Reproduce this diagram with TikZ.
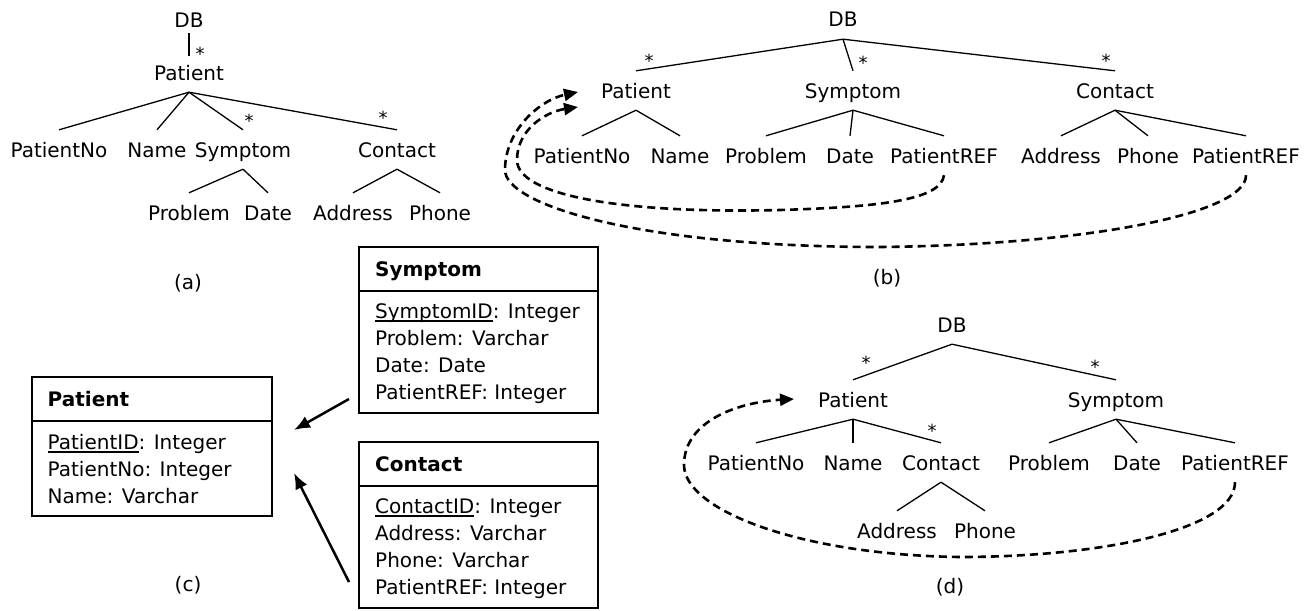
\documentclass[tikz,border=0pt]{standalone}
\usepackage{fontspec}
\setmainfont{DejaVu Sans}
\usetikzlibrary{arrows.meta}
\newcommand\myul[1]{\setbox0\hbox{#1}\rlap{\rule[-3.5pt]{\wd0}{1.3pt}}\box0}
\tikzset{
  tn/.style={inner sep=0pt, text height=27pt, text depth=12pt, anchor=base},
  lbl/.style={inner sep=0pt, anchor=base},
  astk/.style={inner sep=0pt, anchor=base, font=\fontsize{18}{18}\selectfont},
  ebox/.style={draw, line width=1.4pt, inner sep=0pt},
  row/.style={inner sep=0pt, anchor=base west},
  edge/.style={line width=1.3pt},
  dsh/.style={line width=2.6pt, dash pattern=on 8pt off 5pt, -{Triangle[length=14pt,width=12pt]}},
  fk/.style={line width=2.5pt, -{Latex[length=16pt,width=13pt]}}
}
\begin{document}
\begin{tikzpicture}[x=1pt, y=-1pt, font=\fontsize{20}{27}\selectfont]
\useasboundingbox (0,0) rectangle (1313,610);

% ---------- (a) ----------
\node[tn, text depth=5pt] (dbA) at (189,28) {DB};
\node[tn] (patA) at (189,80) {Patient};
\node[tn] (pnoA) at (59,157) {PatientNo};
\node[tn] (nameA) at (157,157) {Name};
\node[tn] (symA) at (243,157) {Symptom};
\node[tn] (conA) at (397,157) {Contact};
\node[tn] (probA) at (189,220) {Problem};
\node[tn] (dateA) at (268,220) {Date};
\node[tn] (addrA) at (353,220) {Address};
\node[tn] (phoneA) at (440,220) {Phone};
\draw[edge, shorten >=-3pt] (dbA.south) -- (patA.north);
\draw[edge] (patA.south) -- (pnoA.north);
\draw[edge] (patA.south) -- (nameA.north);
\draw[edge] (patA.south) -- (symA.north);
\draw[edge] (patA.south) -- (conA.north);
\draw[edge] (symA.south) -- (probA.north);
\draw[edge] (symA.south) -- (dateA.north);
\draw[edge] (conA.south) -- (addrA.north);
\draw[edge] (conA.south) -- (phoneA.north);
\node[astk] (sA1) at (200,60) {*};
\node[astk] (sA2) at (249,127) {*};
\node[astk] (sA3) at (383,124) {*};
\node[lbl] (labA) at (188,289) {(a)};

% ---------- (b) ----------
\node[tn] (dbB) at (843,27) {DB};
\node[tn] (patB) at (636,98) {Patient};
\node[tn] (symB) at (853,98) {Symptom};
\node[tn] (conB) at (1115,98) {Contact};
\node[tn] (pnoB) at (582,163) {PatientNo};
\node[tn] (nameB) at (680,163) {Name};
\node[tn] (probB) at (766,163) {Problem};
\node[tn] (dateB) at (850,163) {Date};
\node[tn] (refB1) at (944,163) {PatientREF};
\node[tn] (addrB) at (1061,163) {Address};
\node[tn] (phoneB) at (1148,163) {Phone};
\node[tn] (refB2) at (1246,163) {PatientREF};
\draw[edge] (dbB.south) -- (patB.north);
\draw[edge] (dbB.south) -- (symB.north);
\draw[edge] (dbB.south) -- (conB.north);
\draw[edge] (patB.south) -- (pnoB.north);
\draw[edge] (patB.south) -- (nameB.north);
\draw[edge] (symB.south) -- (probB.north);
\draw[edge] (symB.south) -- (dateB.north);
\draw[edge] (symB.south) -- (refB1.north);
\draw[edge] (conB.south) -- (addrB.north);
\draw[edge] (conB.south) -- (phoneB.north);
\draw[edge] (conB.south) -- (refB2.north);
\node[astk] (sB1) at (649,67) {*};
\node[astk] (sB2) at (863,70) {*};
\node[astk] (sB3) at (1106,67) {*};
\node[lbl] (labB) at (887,284) {(b)};
\coordinate (tipB1) at (578,92);
\coordinate (tipB2) at (578,107);
\draw[dsh] (refB2.south) .. controls (1246,215) and (1080,245) .. (880,247)
  .. controls (640,247) and (505,205) .. (505,170)
  .. controls (505,130) and (540,100) .. (tipB1);
\draw[dsh] (refB1.south) .. controls (941,200) and (880,207) .. (780,210)
  .. controls (620,214) and (517,195) .. (517,160)
  .. controls (517,130) and (545,112) .. (tipB2);

% ---------- (c) ----------
\node[ebox, minimum width=240pt, minimum height=139pt] (pbox) at (152,446.5) {};
\node[ebox, minimum width=239pt, minimum height=166pt] (sbox) at (478.5,330) {};
\node[ebox, minimum width=239pt, minimum height=166pt] (cbox) at (478.5,525) {};
\coordinate (psep) at (0,421);
\coordinate (ssep) at (0,291);
\coordinate (csep) at (0,486);
\draw[line width=1.4pt] (pbox.west |- psep) -- (pbox.east |- psep);
\draw[line width=1.4pt] (sbox.west |- ssep) -- (sbox.east |- ssep);
\draw[line width=1.4pt] (cbox.west |- csep) -- (cbox.east |- csep);
\node[row] (pT) at (47.5,406) {\bfseries Patient};
\node[row] (pR1) at (47.5,449) {\myul{PatientID}: Integer};
\node[row] (pR2) at (47.5,476) {PatientNo: Integer};
\node[row] (pR3) at (47.5,503) {Name: Varchar};
\node[row] (sT) at (375,276) {\bfseries Symptom};
\node[row] (sR1) at (375,318) {\myul{SymptomID}: Integer};
\node[row] (sR2) at (375,345) {Problem: Varchar};
\node[row] (sR3) at (375,372) {Date: Date};
\node[row] (sR4) at (375,399) {PatientREF: Integer};
\node[row] (cT) at (375,471) {\bfseries Contact};
\node[row] (cR1) at (375,513) {\myul{ContactID}: Integer};
\node[row] (cR2) at (375,540) {Address: Varchar};
\node[row] (cR3) at (375,567) {Phone: Varchar};
\node[row] (cR4) at (375,594) {PatientREF: Integer};
\coordinate (fk1s) at (349,399);
\coordinate (fk1e) at (294,430);
\coordinate (fk2s) at (349,582);
\coordinate (fk2e) at (294,473);
\draw[fk] (fk1s) -- (fk1e);
\draw[fk] (fk2s) -- (fk2e);
\node[lbl] (labC) at (188,591) {(c)};

% ---------- (d) ----------
\node[tn] (dbD) at (952,332) {DB};
\node[tn] (patD) at (853,407) {Patient};
\node[tn] (symD) at (1116,407) {Symptom};
\node[tn] (pnoD) at (756,470) {PatientNo};
\node[tn] (nameD) at (853,470) {Name};
\node[tn] (conD) at (941,470) {Contact};
\node[tn] (probD) at (1049,470) {Problem};
\node[tn] (dateD) at (1137,470) {Date};
\node[tn] (refD) at (1235,470) {PatientREF};
\node[tn] (addrD) at (897,538) {Address};
\node[tn] (phoneD) at (985,538) {Phone};
\draw[edge] (dbD.south) -- (patD.north);
\draw[edge] (dbD.south) -- (symD.north);
\draw[edge] (patD.south) -- (pnoD.north);
\draw[edge] (patD.south) -- (nameD.north);
\draw[edge] (patD.south) -- (conD.north);
\draw[edge] (symD.south) -- (probD.north);
\draw[edge] (symD.south) -- (dateD.north);
\draw[edge] (symD.south) -- (refD.north);
\draw[edge] (conD.south) -- (addrD.north);
\draw[edge] (conD.south) -- (phoneD.north);
\node[astk] (sD1) at (866,369) {*};
\node[astk] (sD2) at (1095,373) {*};
\node[astk] (sD3) at (932,437) {*};
\node[lbl] (labD) at (950,593) {(d)};
\coordinate (tipD) at (794,399);
\draw[dsh] (refD.south) .. controls (1235,530) and (1100,557) .. (960,557)
  .. controls (800,555) and (684,510) .. (684,465)
  .. controls (684,420) and (740,402) .. (tipD);
\end{tikzpicture}
\end{document}
